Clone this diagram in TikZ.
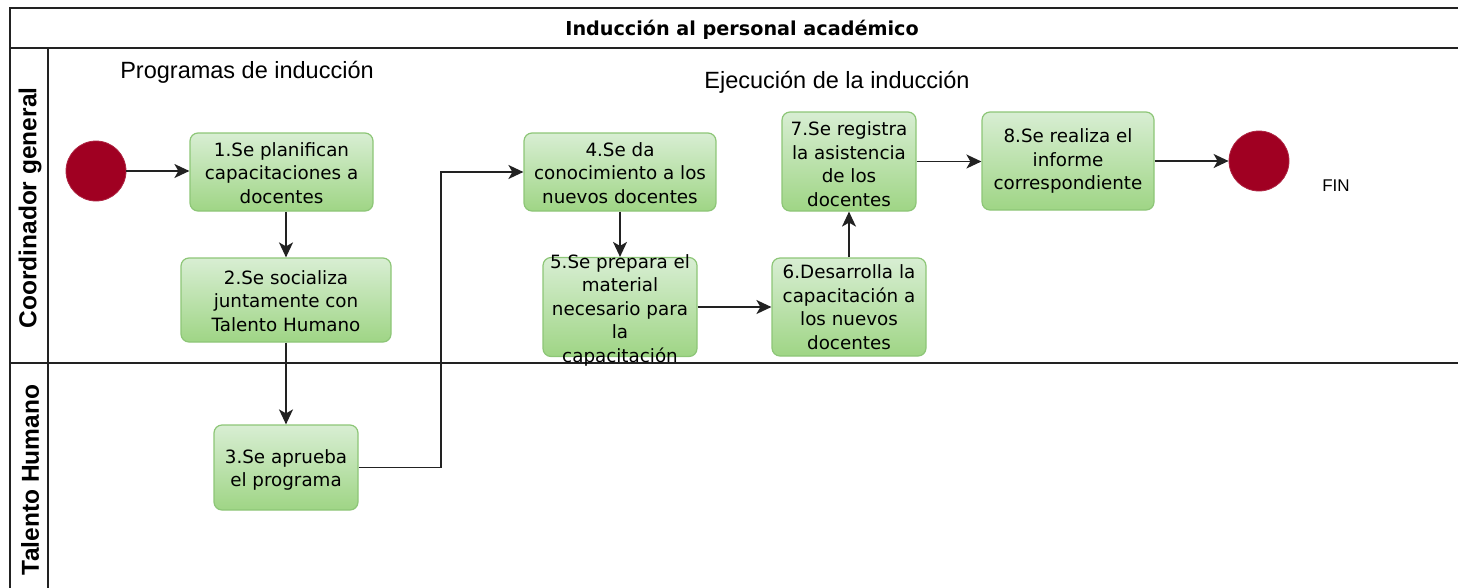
\documentclass[tikz,border=0pt]{standalone}
\usepackage{fontspec}
\setmainfont{DejaVu Sans}
\newfontfamily\lanefont{Liberation Sans}
\usetikzlibrary{arrows.meta}
\definecolor{boxtop}{HTML}{D8EED3}
\definecolor{boxbot}{HTML}{9FD585}
\definecolor{boxedge}{HTML}{8DC677}
\definecolor{evfill}{HTML}{A00022}
\definecolor{linecol}{HTML}{222222}
\begin{document}
\begin{tikzpicture}[x=1pt,y=-1pt,
  frame/.style={draw=linecol, line width=1.8pt},
  stepbox/.style={rectangle, rounded corners=8pt, draw=boxedge, line width=1.2pt, top color=boxtop, bottom color=boxbot, inner sep=0pt},
  boxtext/.style={align=center, font=\fontsize{18.3}{23.5}\selectfont, inner sep=0pt},
  event/.style={circle, fill=evfill, draw=evfill!85!white, line width=0.8pt, minimum size=60pt, inner sep=0pt},
  flow/.style={draw=linecol, line width=1.6pt, -{Stealth[length=15pt,width=14pt,inset=4pt]}},
  lanelabel/.style={rotate=90, font=\lanefont\bfseries\fontsize{24.5}{26}\selectfont, inner sep=0pt},
  phase/.style={font=\lanefont\fontsize{23.5}{25}\selectfont, inner sep=0pt}]
\useasboundingbox (0,0) rectangle (1458,587);
\clip (0,0) rectangle (1458,587);
% frame
\draw[frame] (1470,8) -- (10,8) -- (10,600);
\draw[frame] (10,48) -- (1470,48);
\draw[frame] (48,48) -- (48,600);
\draw[frame] (10,363) -- (1470,363);
% texts
\node[font=\bfseries\fontsize{19.2}{21}\selectfont, inner sep=0pt] (title) at (742,30) {Inducción al personal académico};
\node[lanelabel] (lane1) at (30,208) {Coordinador general};
\node[lanelabel] (lane2) at (30,480) {Talento Humano};
\node[phase] (ph1) at (247,72) {Programas de inducción};
\node[phase] (ph2) at (837,82) {Ejecución de la inducción};
% events
\node[event] (start) at (96,171) {};
\node[event] (end) at (1259,161) {};
\node[font=\lanefont\fontsize{17}{19}\selectfont, inner sep=0pt] (fin) at (1336,186) {FIN};
% boxes
\node[stepbox, minimum width=183pt, minimum height=78pt] (b1) at (281.5,172) {};
\node[boxtext] (t1) at (281.5,173) {1.Se planifican\\capacitaciones a\\docentes};
\node[stepbox, minimum width=210pt, minimum height=84pt] (b2) at (286,300) {};
\node[boxtext] (t2) at (286,301) {2.Se socializa\\juntamente con\\Talento Humano};
\node[stepbox, minimum width=144pt, minimum height=85pt] (b3) at (286,467.5) {};
\node[boxtext] (t3) at (286,470) {3.Se aprueba\\el programa};
\node[stepbox, minimum width=192pt, minimum height=78pt] (b4) at (620,172) {};
\node[boxtext] (t4) at (620,173) {4.Se da\\conocimiento a los\\nuevos docentes};
\node[stepbox, minimum width=154pt, minimum height=99pt] (b5) at (620,307) {};
\node[boxtext] (t5) at (620,310) {5.Se prepara el\\material\\necesario para\\la\\capacitación};
\node[stepbox, minimum width=154pt, minimum height=98pt] (b6) at (849,307) {};
\node[boxtext] (t6) at (849,307) {6.Desarrolla la\\capacitación a\\los nuevos\\docentes};
\node[stepbox, minimum width=134pt, minimum height=99pt] (b7) at (849,161.5) {};
\node[boxtext] (t7) at (849,164) {7.Se registra\\la asistencia\\de los\\docentes};
\node[stepbox, minimum width=172pt, minimum height=98pt] (b8) at (1068,161) {};
\node[boxtext] (t8) at (1068,161) {8.Se realiza el\\informe\\correspondiente};
% connectors
\coordinate (bend) at (441,467.5);
\draw[flow] (start) -- (b1.west |- start);
\draw[flow] (b2.north |- b1.south) -- (b2.north);
\draw[flow] (b2.south) -- (b3.north);
\draw[flow] (b3.east) -- (bend) |- (b4.west);
\draw[flow] (b4.south) -- (b5.north);
\draw[flow] (b5.east) -- (b6.west);
\draw[flow] (b6.north) -- (b7.south);
\draw[flow] (b7.east) -- (b8.west |- b7.east);
\draw[flow] (b8.east) -- (end.west);
\end{tikzpicture}
\end{document}
